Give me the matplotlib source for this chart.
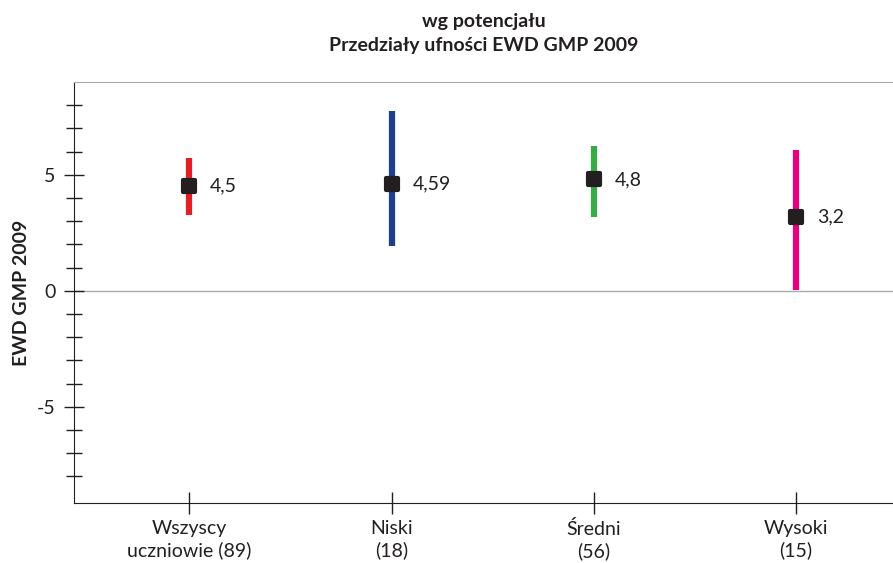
import matplotlib.pyplot as plt
from matplotlib.markers import MarkerStyle

plt.rcParams['font.family'] = ['Lato', 'DejaVu Sans']

categories = ['Wszyscy\nuczniowie (89)', 'Niski\n(18)', 'Średni\n(56)', 'Wysoki\n(15)']
ewd = [4.5, 4.59, 4.8, 3.2]
ci_low = [3.28, 1.94, 3.19, 0.04]
ci_high = [5.73, 7.76, 6.25, 6.08]
labels = ['4,5', '4,59', '4,8', '3,2']
colors = ['#e31e24', '#1f3f8a', '#3aaa48', '#e6007e']

ink = '#231f20'

fig = plt.figure(figsize=(8.93, 5.63), dpi=100)
ax = fig.add_axes([0.0829, 0.1066, 0.9171, 0.7478])

xs = list(range(1, len(categories) + 1))
ax.axhline(0, color='#aaaaaa', lw=1, zorder=1)

# rounded black squares on top of the interval bars
sq = MarkerStyle('s', joinstyle='round')
for x, v, lo, hi, lab, c in zip(xs, ewd, ci_low, ci_high, labels, colors):
    ax.vlines(x, lo, hi, color=c, lw=4.5, zorder=2)
    ax.plot(x, v, marker=sq, ms=8.5, mfc=ink, mec=ink, mew=3, zorder=3)
    ax.annotate(lab, (x, v), xytext=(15, 0), textcoords='offset points',
                va='center', ha='left', fontsize=14, color=ink)

ax.set_xlim(0.43, 4.48)
ax.set_ylim(-9.15, 9.0)
ax.set_xticks(xs)
ax.set_xticklabels(categories, fontsize=14, color=ink, linespacing=1.3)
ax.set_yticks([-5, 0, 5])
ax.set_yticklabels(['-5', '0', '5'], fontsize=14, color=ink)
ax.set_yticks(range(-8, 9), minor=True)

ax.tick_params(axis='y', which='major', direction='inout', length=15, width=1, color=ink, pad=6)
ax.tick_params(axis='y', which='minor', direction='inout', length=12, width=1, color=ink)
ax.tick_params(axis='x', which='major', direction='inout', length=16, width=1, color=ink, pad=4)

ax.spines['right'].set_visible(False)
ax.spines['top'].set_color('#aaaaaa')
ax.spines['left'].set_color(ink)
ax.spines['bottom'].set_color(ink)

ax.set_ylabel('EWD GMP 2009', fontsize=14, fontweight='bold', color=ink, labelpad=5)
ax.set_title('wg potencjału\nPrzedziały ufności EWD GMP 2009', fontsize=14,
             fontweight='bold', color=ink, linespacing=1.5, pad=22)

fig.savefig('out.png', dpi=100)
